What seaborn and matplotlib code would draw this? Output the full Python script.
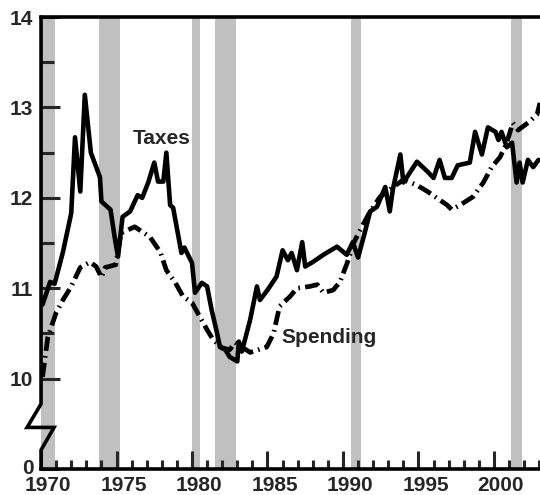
import numpy as np
import pandas as pd
import matplotlib
matplotlib.use('Agg')
import matplotlib.pyplot as plt
import matplotlib.transforms as mtransforms
from matplotlib.ticker import FixedLocator, MultipleLocator
import seaborn as sns

# Datos (porcentaje del PIB)
taxes_year = [1970.1, 1970.6, 1970.9, 1971.45, 1972.0, 1972.25, 1972.6, 1972.9, 1973.3, 1973.9,
              1974.0, 1974.6, 1974.9, 1975.1, 1975.4, 1975.9, 1976.4, 1976.7, 1977.1, 1977.5,
              1977.75, 1978.1, 1978.3, 1978.55, 1978.75, 1979.3, 1979.5, 1980.0, 1980.2, 1980.65,
              1981.0, 1981.3, 1981.65, 1981.85, 1982.2, 1982.5, 1983.0, 1983.1, 1983.3, 1983.85,
              1984.3, 1984.5, 1985.0, 1985.6, 1986.0, 1986.35, 1986.6, 1986.95, 1987.3, 1987.5,
              1988.0, 1988.7, 1989.6, 1990.25, 1990.65, 1991.0, 1991.45, 1991.8, 1992.25, 1992.8,
              1993.1, 1993.3, 1993.8, 1994.0, 1994.9, 1995.6, 1996.0, 1996.4, 1996.75, 1997.2,
              1997.6, 1998.4, 1998.75, 1999.2, 1999.6, 2000.1, 2000.3, 2000.5, 2000.85, 2001.2,
              2001.5, 2001.7, 2001.9, 2002.25, 2002.6, 2002.95]
taxes_val = [10.82, 11.07, 11.05, 11.40, 11.83, 12.67, 12.07, 13.14, 12.50, 12.23,
             11.96, 11.87, 11.54, 11.35, 11.79, 11.85, 12.03, 12.00, 12.17, 12.39,
             12.18, 12.18, 12.50, 11.92, 11.89, 11.39, 11.45, 11.28, 10.95, 11.06,
             11.02, 10.76, 10.51, 10.35, 10.32, 10.24, 10.19, 10.41, 10.30, 10.65,
             11.02, 10.87, 10.98, 11.13, 11.42, 11.31, 11.39, 11.20, 11.51, 11.24,
             11.29, 11.37, 11.46, 11.37, 11.51, 11.34, 11.62, 11.85, 11.90, 12.12,
             11.85, 12.09, 12.48, 12.17, 12.40, 12.29, 12.22, 12.42, 12.22, 12.22,
             12.36, 12.39, 12.73, 12.48, 12.78, 12.73, 12.64, 12.73, 12.56, 12.61,
             12.17, 12.39, 12.17, 12.42, 12.34, 12.42]

spend_year = [1970.1, 1970.45, 1971.0, 1971.45, 1972.0, 1972.6, 1973.25, 1973.65, 1974.0, 1974.25,
              1974.95, 1975.3, 1976.2, 1977.2, 1977.9, 1978.3, 1978.9, 1979.4, 1980.0, 1980.5,
              1981.0, 1981.4, 1982.0, 1982.5, 1982.85, 1983.3, 1983.85, 1984.4, 1984.95, 1985.4,
              1985.8, 1986.5, 1986.95, 1987.8, 1988.3, 1988.7, 1989.35, 1989.8, 1990.3, 1990.7,
              1991.25, 1991.8, 1992.45, 1993.25, 1994.0, 1994.9, 1995.6, 1996.2, 1996.9, 1997.2,
              1997.75, 1998.6, 1999.3, 1999.85, 2000.4, 2000.85, 2001.25, 2001.6, 2002.25, 2002.85,
              2003.05]
spend_val = [10.02, 10.46, 10.73, 10.87, 11.02, 11.23, 11.29, 11.24, 11.12, 11.23,
             11.26, 11.61, 11.68, 11.57, 11.40, 11.20, 11.06, 10.91, 10.84, 10.69,
             10.54, 10.43, 10.34, 10.32, 10.40, 10.35, 10.29, 10.32, 10.35, 10.50,
             10.80, 10.91, 11.00, 11.02, 11.04, 10.95, 10.98, 11.07, 11.29, 11.50,
             11.68, 11.85, 12.01, 12.11, 12.20, 12.14, 12.07, 12.00, 11.92, 11.87,
             11.92, 12.01, 12.17, 12.34, 12.45, 12.61, 12.83, 12.75, 12.83, 12.92,
             13.05]

# Recesiones (inicio, fin)
rec_start = [1969.9, 1973.85, 1980.0, 1981.5, 1990.55, 2001.15]
rec_end = [1970.9, 1975.25, 1980.55, 1982.9, 1991.2, 2001.85]

ytick_pos = [9, 10, 11, 12, 13, 14]
ytick_lab = ['0', '10', '11', '12', '13', '14']
xtick_years = [1970, 1975, 1980, 1985, 1990, 1995, 2000]

sns.set_theme(style='white')
plt.rcParams['font.family'] = ['Liberation Sans', 'DejaVu Sans']
plt.rcParams['font.weight'] = 'bold'

df_tax = pd.DataFrame({'year': taxes_year, 'value': taxes_val})
df_sp = pd.DataFrame({'year': spend_year, 'value': spend_val})

fig = plt.figure(figsize=(5.4, 4.95), dpi=100)
ax = fig.add_axes([0.076, 0.0525, 0.924, 0.913])

for s, e in zip(rec_start, rec_end):
    ax.axvspan(s, e, color='#c0c0c0', lw=0, zorder=0)

sns.lineplot(data=df_tax, x='year', y='value', color='black', lw=3.3, sort=False, ax=ax)
sns.lineplot(data=df_sp, x='year', y='value', color='black', lw=3.4, sort=False, ax=ax,
             linestyle=(0, (3, 1.1, 0.35, 1.1)))

ax.set_xlim(1970, 2003.05)
ax.set_ylim(9, 14)
ax.set_xlabel('')
ax.set_ylabel('')

ax.text(1976.05, 12.66, 'Taxes', fontsize=15, fontweight='bold', va='center', ha='left')
ax.text(1985.95, 10.45, 'Spending', fontsize=15, fontweight='bold', va='center', ha='left')

# Ejes
ax.set_yticks(ytick_pos)
ax.set_yticklabels(ytick_lab)
ax.yaxis.set_minor_locator(FixedLocator([10.5, 11.5, 12.5, 13.5]))
ax.set_xticks(xtick_years)
ax.set_xticklabels([str(y) for y in xtick_years])
ax.xaxis.set_minor_locator(MultipleLocator(1))

ax.tick_params(axis='y', which='major', direction='in', length=14, width=2.2, pad=5.5,
               labelsize=15, left=True)
ax.tick_params(axis='y', which='minor', direction='in', length=9, width=2.2, left=True)
ax.tick_params(axis='x', which='major', direction='in', length=13, width=2.2, pad=5,
               labelsize=15, bottom=True)
ax.tick_params(axis='x', which='minor', direction='in', length=6.5, width=2.2, bottom=True)

offset = mtransforms.ScaledTranslation(0.07, 0, fig.dpi_scale_trans)
for lab in ax.get_xticklabels():
    lab.set_transform(lab.get_transform() + offset)
    lab.set_fontweight('bold')
for lab in ax.get_yticklabels():
    lab.set_fontweight('bold')
# la etiqueta "0" queda un poco por encima del eje
up = mtransforms.ScaledTranslation(0, 0.03, fig.dpi_scale_trans)
zero_lab = ax.get_yticklabels()[0]
zero_lab.set_transform(zero_lab.get_transform() + up)

for side in ['top', 'bottom']:
    ax.spines[side].set_linewidth(2.6)
    ax.spines[side].set_color('black')
ax.spines['right'].set_visible(False)
ax.spines['left'].set_visible(False)

# Eje izquierdo con corte
trans = mtransforms.blended_transform_factory(ax.transAxes, ax.transData)
ax.plot([0, 0, -0.028, 0.026, 0, 0], [14, 9.72, 9.46, 9.46, 9.21, 9],
        transform=trans, color='black', lw=2.6, clip_on=False,
        solid_joinstyle='miter', zorder=5)

fig.savefig('out.png', dpi=100)
